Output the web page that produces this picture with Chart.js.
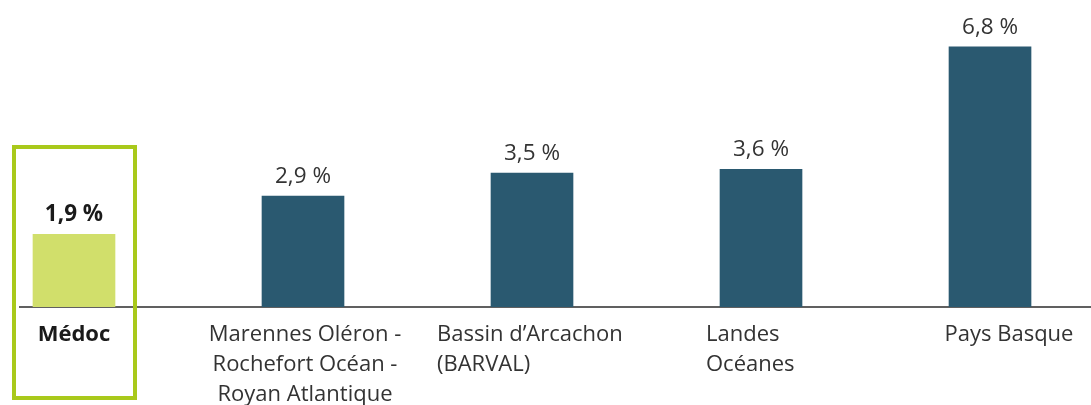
<!DOCTYPE html>
<html lang="fr">
<head>
<meta charset="UTF-8">
<title>Médoc</title>
<style>
  body { margin: 0; background: #fff; }
  .graf { width: 1091px; height: 405px; position: relative; }
</style>
</head>
<body>
<div class="graf">
  <canvas id="graficoBarras"></canvas>
</div>
<script src="https://cdn.jsdelivr.net/npm/chart.js"></script>
<script>
  // dados
  const categorias = [
    ['Médoc'],
    ['Marennes Oléron -', 'Rochefort Océan -', 'Royan Atlantique'],
    ['Bassin d’Arcachon', '(BARVAL)'],
    ['Landes', 'Océanes'],
    ['Pays Basque']
  ];
  const valores = [1.9, 2.9, 3.5, 3.6, 6.8];
  const rotulos = ['1,9 %', '2,9 %', '3,5 %', '3,6 %', '6,8 %'];

  // estilos
  const cores = ['#d1df6b', '#2a5970', '#2a5970', '#2a5970', '#2a5970'];
  const alinhamento = ['center', 'center', 'left', 'left', 'center'];
  const deslocamento = [0, 2, -95, -55, 19];
  const fonte = '"Open Sans", "Noto Sans", sans-serif';

  const plugin = {
    id: 'rotulos',
    afterDatasetsDraw(chart) {
      const ctx = chart.ctx;
      const meta = chart.getDatasetMeta(0);
      const x = chart.scales.x;
      const base = chart.chartArea.bottom;
      ctx.save();

      // valores acima das barras
      ctx.textAlign = 'center';
      ctx.textBaseline = 'bottom';
      meta.data.forEach((bar, i) => {
        ctx.font = (i === 0 ? 'bold ' : '') + '22.5px ' + fonte;
        ctx.fillStyle = i === 0 ? '#1a1a1a' : '#333333';
        ctx.fillText(rotulos[i], bar.x, bar.y - 8);
      });

      // nomes das categorias
      ctx.textBaseline = 'middle';
      categorias.forEach((linhas, i) => {
        const px = x.getPixelForValue(i) + deslocamento[i];
        ctx.font = (i === 0 ? 'bold ' : '') + '22px ' + fonte;
        ctx.fillStyle = i === 0 ? '#1a1a1a' : '#333333';
        ctx.textAlign = alinhamento[i];
        linhas.forEach((l, j) => ctx.fillText(l, px, base + 28 + j * 30));
      });

      // moldura verde do Médoc
      const p0 = x.getPixelForValue(0);
      ctx.strokeStyle = '#a9c91b';
      ctx.lineWidth = 4;
      ctx.strokeRect(p0 - 60, 147, 121, 251);
      ctx.restore();
    }
  };

  const ctx1 = document.getElementById('graficoBarras');

  const chart1 = new Chart(ctx1, {
    type: 'bar',
    data: {
      datasets: [{
        data: valores.map((v, i) => ({ x: i, y: v })),
        backgroundColor: cores,
        barThickness: 82
      }]
    },
    options: {
      responsive: true,
      maintainAspectRatio: false,
      animation: false,
      layout: { padding: { left: 20, right: 0, top: 1, bottom: 98 } },
      scales: {
        x: {
          type: 'linear',
          offset: false,
          min: -0.2358,
          max: 4.441,
          ticks: { display: false },
          grid: { display: false, drawTicks: false },
          border: { display: true, color: '#606060', width: 2 }
        },
        y: {
          display: false,
          min: 0,
          max: 8
        }
      },
      plugins: {
        legend: { display: false },
        tooltip: { enabled: false }
      }
    },
    plugins: [plugin]
  });
</script>
</body>
</html>
